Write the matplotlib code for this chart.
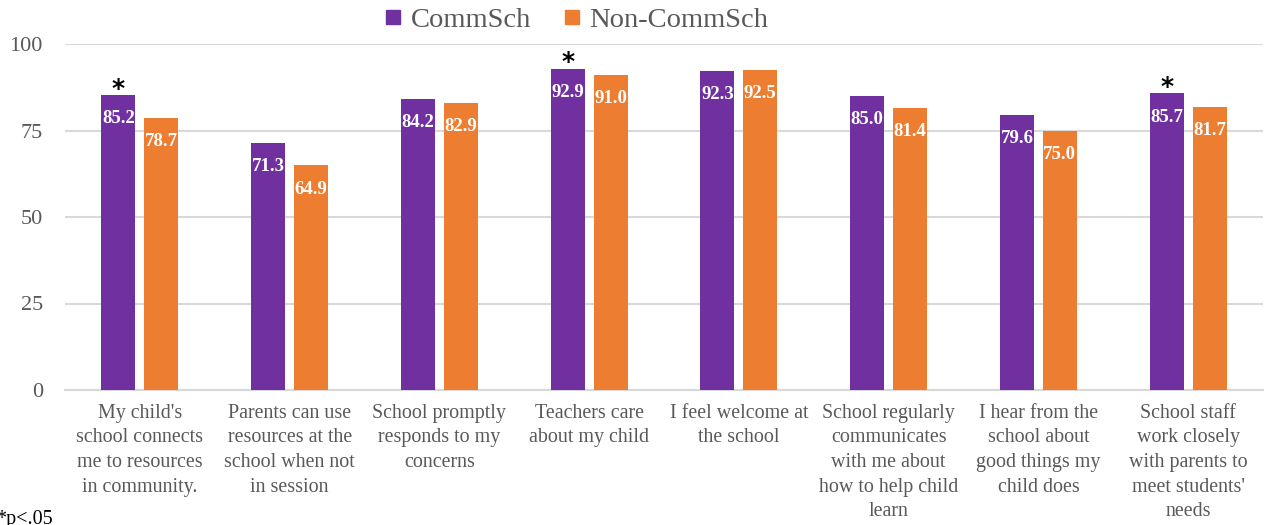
import matplotlib
matplotlib.use('Agg')
import matplotlib.pyplot as plt
import numpy as np
from matplotlib.lines import Line2D

categories = ["My child's\nschool connects\nme to resources\nin community.",
              "Parents can use\nresources at the\nschool when not\nin session",
              "School promptly\nresponds to my\nconcerns",
              "Teachers care\nabout my child",
              "I feel welcome at\nthe school",
              "School regularly\ncommunicates\nwith me about\nhow to help child\nlearn",
              "I hear from the\nschool about\ngood things my\nchild does",
              "School staff\nwork closely\nwith parents to\nmeet students'\nneeds"]
commsch = [85.2, 71.3, 84.2, 92.9, 92.3, 85.0, 79.6, 85.7]
noncommsch = [78.7, 64.9, 82.9, 91.0, 92.5, 81.4, 75.0, 81.7]
significant = [True, False, False, True, False, False, False, True]
yticks = [0, 25, 50, 75, 100]

purple = '#7030A0'
orange = '#ED7D31'
gray = '#595959'

plt.rcParams['font.family'] = ['Liberation Serif', 'DejaVu Serif']

fig = plt.figure(figsize=(12.64, 5.25), dpi=100)
ax = fig.add_axes([65/1264, 1-390/525, 1198/1264, 346/525])

x = np.arange(len(categories))
w = 0.227
off = 0.143
b1 = ax.bar(x - off, commsch, w, color=purple, zorder=3)
b2 = ax.bar(x + off, noncommsch, w, color=orange, zorder=3)

for bars, vals in [(b1, commsch), (b2, noncommsch)]:
    for rect, v in zip(bars, vals):
        ax.annotate(f'{v:.1f}', (rect.get_x() + rect.get_width()/2, v),
                    xytext=(0, -17), textcoords='offset points',
                    ha='center', va='center', color='white',
                    fontsize=13.5, fontweight='bold', zorder=4)

for i, s in enumerate(significant):
    if s:
        ax.annotate('*', (x[i] - off, commsch[i]), xytext=(0, -4),
                    textcoords='offset points', ha='center', va='bottom',
                    fontsize=18, family='DejaVu Sans', fontweight='bold', color='black')

ax.set_xlim(-0.5, len(categories) - 0.5)
ax.set_ylim(0, 100)
ax.set_yticks(yticks)
ax.set_yticklabels([str(t) for t in yticks])
ax.set_xticks(x)
ax.set_xticklabels(categories, linespacing=1.4)
ax.tick_params(axis='y', length=0, pad=16, labelsize=16, labelcolor=gray)
ax.tick_params(axis='x', length=0, pad=10, labelsize=14.4, labelcolor=gray)
ax.yaxis.grid(True, color='#d9d9d9', linewidth=1.5, zorder=0)
ax.set_axisbelow(True)
for sp in ['top', 'right', 'left']:
    ax.spines[sp].set_visible(False)
ax.spines['bottom'].set_color('#d9d9d9')
ax.spines['bottom'].set_linewidth(1.5)

handles = [Line2D([], [], marker='s', linestyle='', color=purple, markersize=10.5, label='CommSch'),
           Line2D([], [], marker='s', linestyle='', color=orange, markersize=10.5, label='Non-CommSch')]
leg = fig.legend(handles=handles, loc='center', bbox_to_anchor=(0.455, 0.962), ncol=2,
                 frameon=False, fontsize=20.5, handletextpad=0.2, columnspacing=1.05,
                 handlelength=0.8)
for t in leg.get_texts():
    t.set_color(gray)

fig.text(-0.003, 1/525, '*p<.05', fontsize=14.5, color='black', ha='left', va='baseline')

fig.savefig('out.png', dpi=100)
